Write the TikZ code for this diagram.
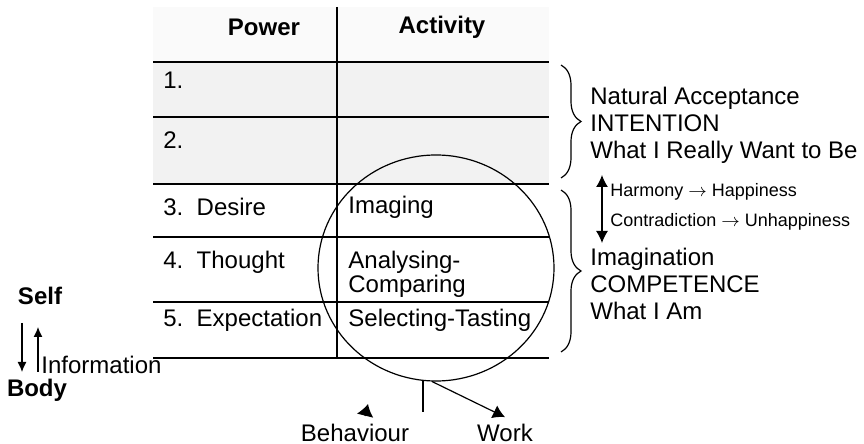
\documentclass[tikz,border=0pt]{standalone}
\usepackage{fontspec}
\setmainfont{Liberation Sans}
\usetikzlibrary{shapes.geometric, arrows.meta, decorations.pathreplacing, calc, positioning}
\tikzstyle{arrow} = [line width=0.6pt,-{Latex[length=6pt,width=7pt]}]
\tikzstyle{thinarrow} = [line width=0.6pt,-{Latex[length=5pt,width=4.5pt]}]
\tikzstyle{rule} = [line width=1pt]
\tikzstyle{cell} = [anchor=west, inner sep=0pt, align=left, font=\fontsize{12}{12}\selectfont]
\tikzstyle{note} = [anchor=west, inner sep=0pt, align=left, font=\fontsize{12}{13.5}\selectfont]
\tikzstyle{small} = [anchor=west, inner sep=0pt, font=\fontsize{9}{9}\selectfont]
\tikzstyle{head} = [inner sep=0pt, font=\fontsize{12}{12}\selectfont\bfseries]
\tikzstyle{curly} = [decorate, decoration={brace, amplitude=10pt}, line width=0.6pt]

\begin{document}
\begin{tikzpicture}[x=0.5pt, y=-0.5pt, font=\fontsize{12}{12}\selectfont]
        \useasboundingbox (0,0) rectangle (864,444);

        % table
        \fill[gray!4] (153,7) rectangle (549,62);
        \fill[gray!10] (153,62) rectangle (549,184);
        \foreach \y in {62,117,184,237,302,358}
            \draw[rule] (153,\y) -- (549,\y);
        \draw[rule] (337,7) -- (337,358);

        \node at (264,27) [head](power) {Power};
        \node at (442,27) [head](activity) {Activity};
        \node at (163,80) [cell](p1) {1.};
        \node at (163,140) [cell](p2) {2.};
        \node at (163,207) [cell](p3) {3.~~Desire};
        \node at (163,262) [cell](p4) {4.~~Thought};
        \node at (163,320) [cell](p5) {5.~~Expectation};
        \node at (348,207) [cell](a3) {Imaging};
        \node at (348,274) [cell](a4) {Analysing-\\Comparing};
        \node at (348,320) [cell](a5) {Selecting-Tasting};

        % circle and outputs
        \node at (436,268) [ellipse, draw, line width=0.6pt, minimum width=118pt, minimum height=113pt](circ) {};
        \node at (355,433) (behav) {Behaviour};
        \node at (505,433) (work) {Work};
        \coordinate (stem) at (423,412);
        \coordinate (btip) at (368,404);
        \draw[line width=0.6pt] (circ.264) -- (stem |- circ.264) -- (stem);
        \draw[arrow] (circ.268) -- (work.north);
        \draw[line width=0.6pt,-{Latex[length=6pt,width=8.5pt]}] ($(btip)+(-3,12)$) -- (btip);

        % braces
        \draw[curly] (561,65) -- (561,178);
        \draw[curly] (561,190) -- (561,352);
        \node at (590,125) [note](intent) {Natural Acceptance\\INTENTION\\What I Really Want to Be};
        \node at (590,284) [note](compet) {Imagination\\COMPETENCE\\What I Am};
        \coordinate (up) at (602,175);
        \coordinate (dn) at (602,243);
        \draw[{Latex[length=6pt,width=6pt]}-{Latex[length=6pt,width=6pt]}, line width=0.6pt] (up) -- (dn);
        \node at (610,192) [small](harm) {Harmony $\rightarrow$ Happiness};
        \node at (610,222) [small](contr) {Contradiction $\rightarrow$ Unhappiness};

        % self and body
        \node at (40,296) [head](self) {Self};
        \node at (37,390) [head](body) {Body};
        \node at (41,365) [cell](info) {Information};
        \coordinate (s1) at (22,323);
        \coordinate (b1) at (22,372);
        \coordinate (s2) at (38,327);
        \coordinate (b2) at (38,372);
        \draw[thinarrow] (s1) -- (b1);
        \draw[thinarrow] (b2) -- (s2);

    \end{tikzpicture}
\end{document}
